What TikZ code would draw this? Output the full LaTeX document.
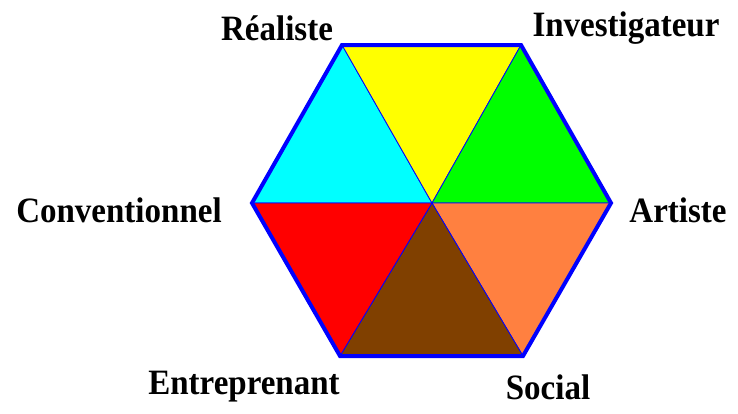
\documentclass[tikz,border=0pt]{standalone}
\usepackage{fontspec}
\setmainfont{Liberation Serif}
\usepackage{tikz}
\usetikzlibrary{calc}
\definecolor{hexcyan}{HTML}{00FFFF}
\definecolor{hexyellow}{HTML}{FFFF00}
\definecolor{hexgreen}{HTML}{00FF00}
\definecolor{hexorange}{HTML}{FF8040}
\definecolor{hexbrown}{HTML}{804000}
\definecolor{hexred}{HTML}{FF0000}
\definecolor{hexblue}{HTML}{0000FF}
\tikzset{
  wedge/.style={draw=hexblue,line width=0.8pt,line join=round},
  rim/.style={draw=hexblue,line width=4pt,line join=miter},
  typelabel/.style={font=\fontsize{33}{33}\selectfont\bfseries,inner sep=0pt,
                    yscale=1.08},
}

\begin{document}
\begin{tikzpicture}[x=1pt,y=-1pt]
  \useasboundingbox (0,0) rectangle (738,413);

  % ---- Hexagon corners ----
  \coordinate (ctr) at (432,203);
  \coordinate (rea) at (342,45);
  \coordinate (inv) at (521,45);
  \coordinate (art) at (611,203);
  \coordinate (soc) at (523,356);
  \coordinate (ent) at (340,356);
  \coordinate (con) at (252,203);

  % ---- Coloured triangles ----
  \fill[hexcyan,wedge]   (ctr)--(con)--(rea)--cycle;
  \fill[hexyellow,wedge] (ctr)--(rea)--(inv)--cycle;
  \fill[hexgreen,wedge]  (ctr)--(inv)--(art)--cycle;
  \fill[hexorange,wedge] (ctr)--(art)--(soc)--cycle;
  \fill[hexbrown,wedge]  (ctr)--(soc)--(ent)--cycle;
  \fill[hexred,wedge]    (ctr)--(ent)--(con)--cycle;

  % ---- Outline ----
  \draw[rim] (rea)--(inv)--(art)--(soc)--(ent)--(con)--cycle;

  % ---- Labels ----
  \node[typelabel] (lrea) at (277,28)  {Réaliste};
  \node[typelabel] (linv) at (626,28)  {Investigateur};
  \node[typelabel] (lcon) at (119,210) {Conventionnel};
  \node[typelabel] (lart) at (678,210) {Artiste};
  \node[typelabel] (lent) at (244,387) {Entreprenant};
  \node[typelabel] (lsoc) at (548,387) {Social};
\end{tikzpicture}
\end{document}
